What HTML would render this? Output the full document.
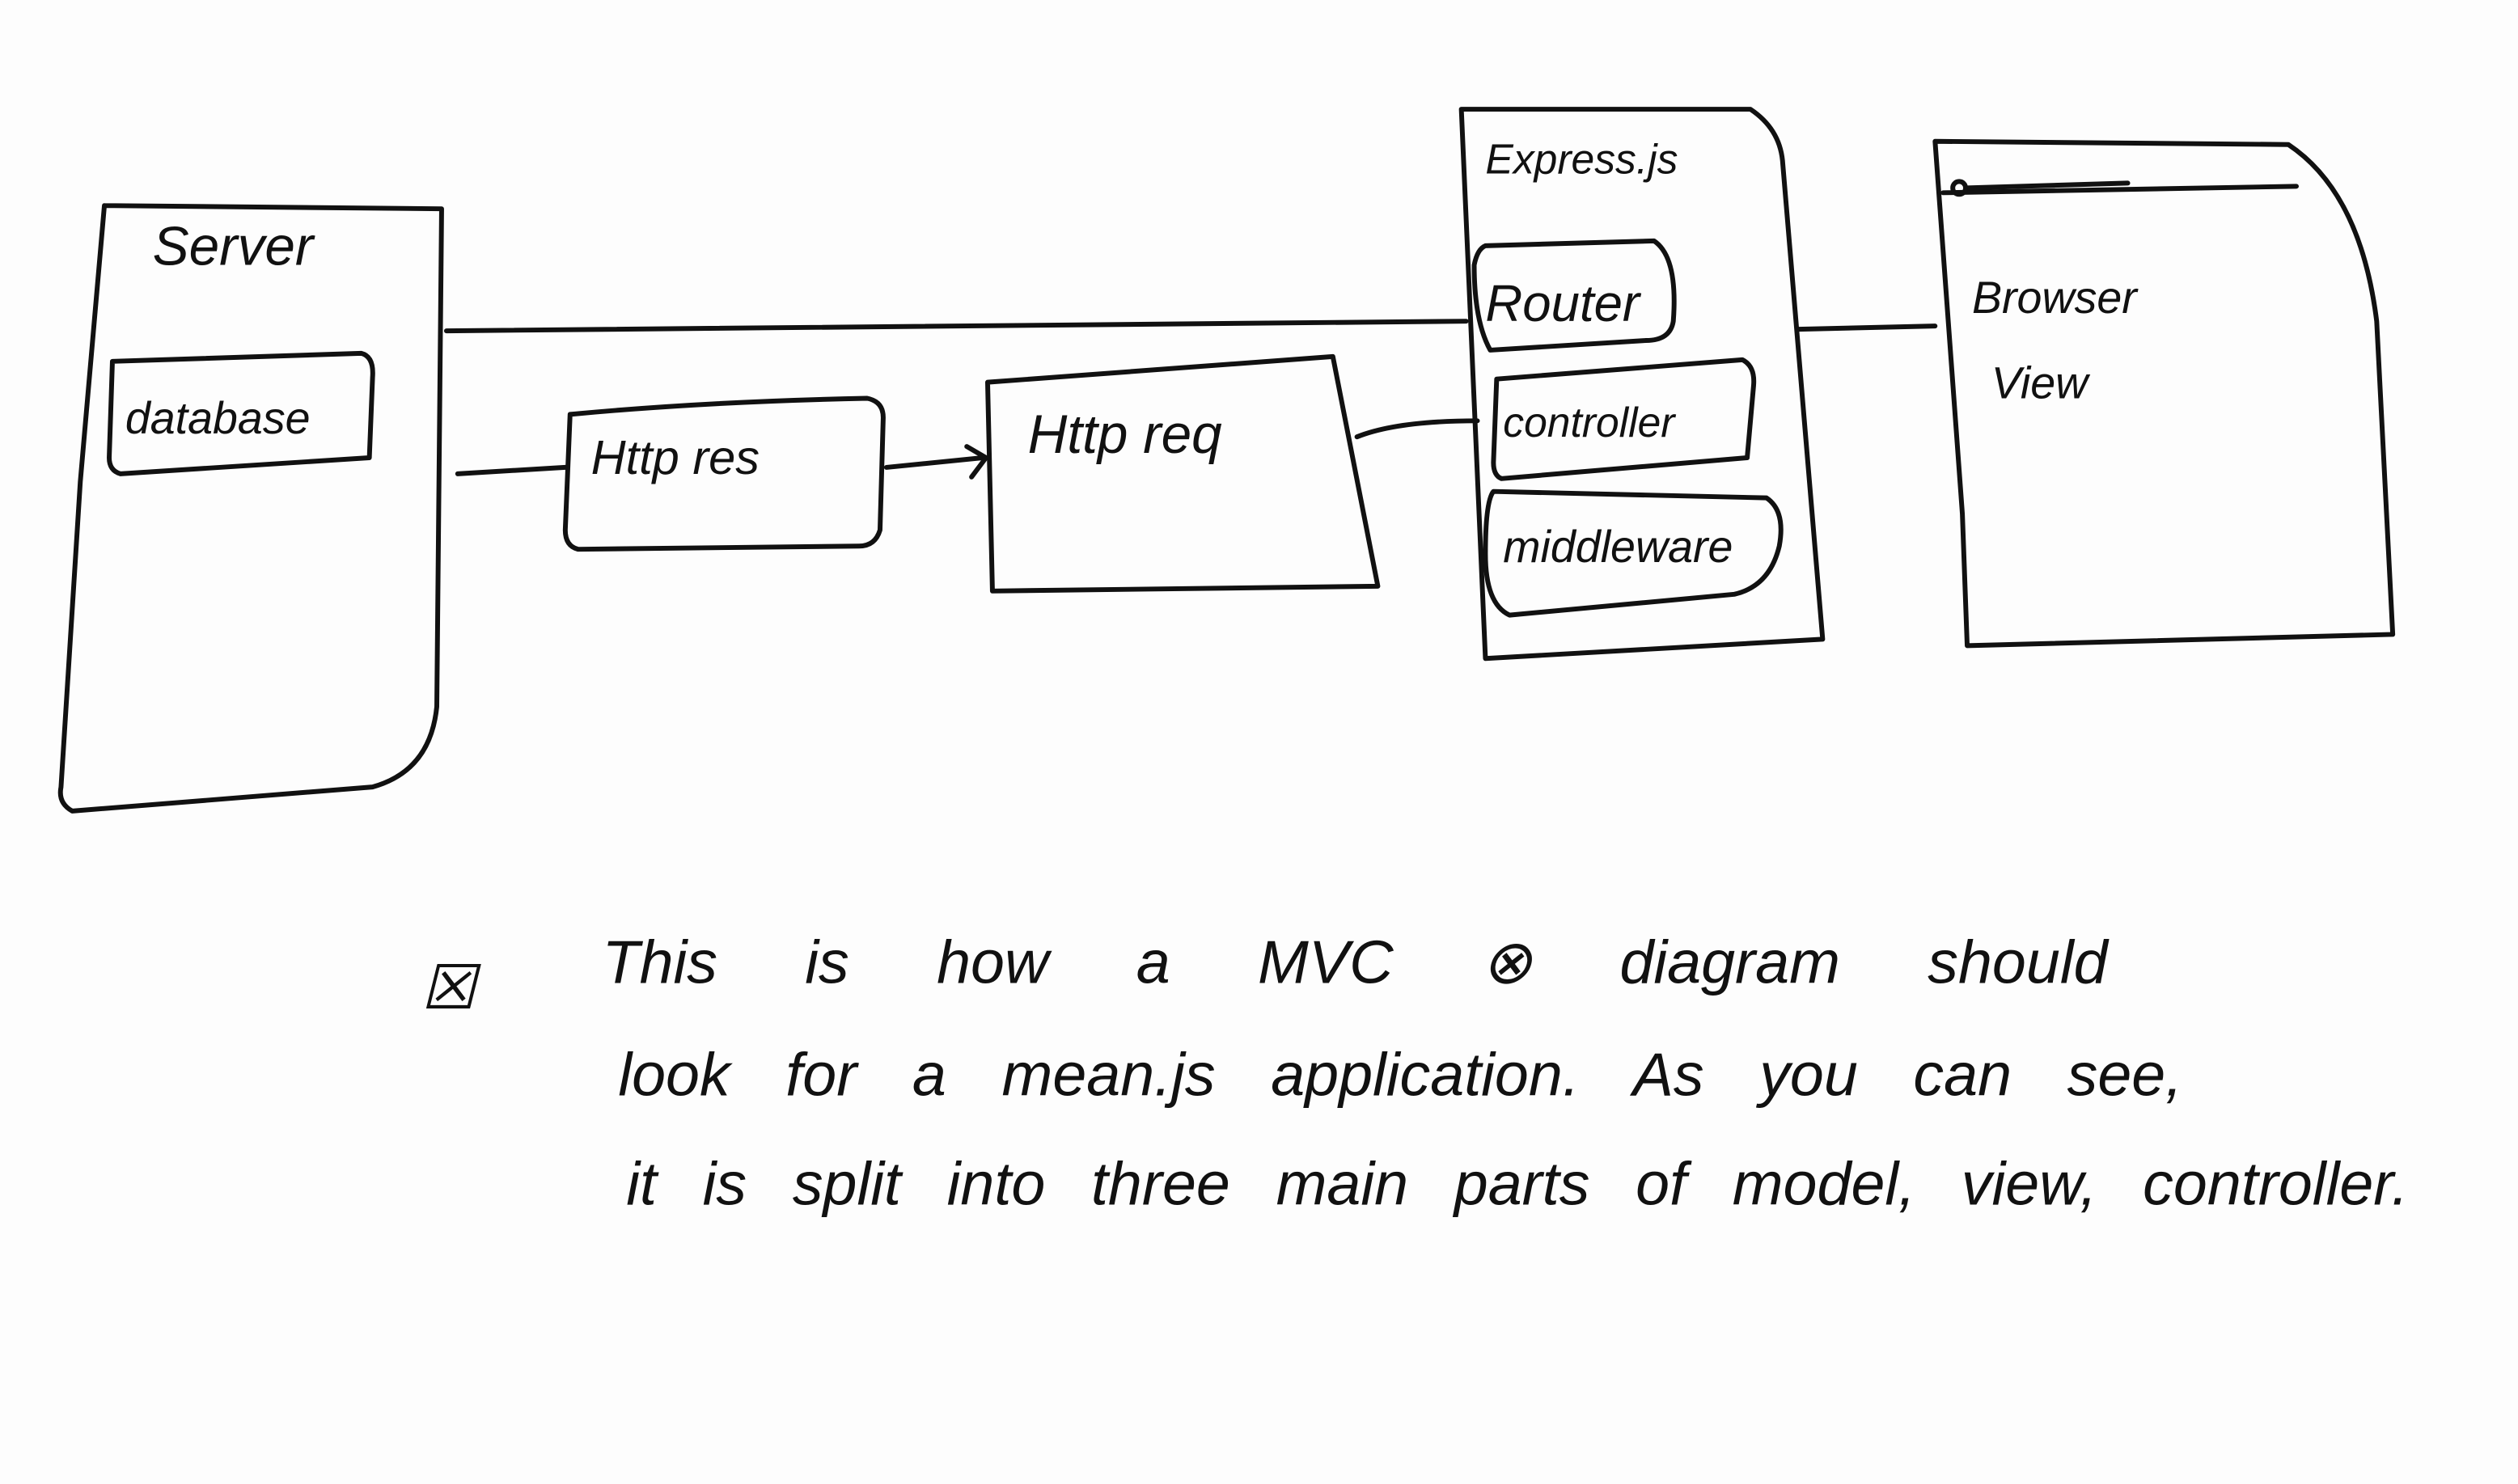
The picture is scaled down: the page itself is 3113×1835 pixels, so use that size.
<!DOCTYPE html>
<html><head><meta charset="utf-8"><style>
html,body{margin:0;padding:0;background:#fff;}
svg{display:block;}
text{font-family:"Liberation Sans",sans-serif;fill:#111;}
</style></head><body>
<svg width="3113" height="1835" viewBox="0 0 1568 924" preserveAspectRatio="none" xmlns="http://www.w3.org/2000/svg">
<rect width="1568" height="924" fill="#fdfdfd"/>
<g fill="none" stroke="#111" stroke-width="3" stroke-linecap="round" stroke-linejoin="round">
<!-- Server -->
<path d="M65,128 L275,130 L272,440 Q268,480 232,490 L45,505 Q36,500 38,490 L50,300 L65,128"/>
<path d="M70,225 L225,220 Q233,222 232,235 L230,285 L75,295 Q68,293 68,285 Z"/>
<!-- connectors -->
<path d="M278,206 L913,200"/>
<path d="M285,295 L352,291"/>
<path d="M552,291 L612,285"/>
<path d="M602,278 L614,285 L605,297"/>
<path d="M845,272 Q870,262 920,262"/>
<path d="M1120,205 L1205,203"/>
<!-- Http res -->
<path d="M355,258 Q440,250 540,248 Q550,250 550,260 L548,330 Q545,340 535,340 L360,342 Q352,340 352,330 Z"/>
<!-- Http req -->
<path d="M615,238 L830,222 L858,365 L618,368 L615,238"/>
<!-- Express -->
<path d="M910,68 L1090,68 Q1108,80 1110,100 L1135,398 L925,410 L910,68"/>
<path d="M925,153 L1030,150 Q1045,160 1042,200 Q1040,212 1025,212 L928,218 Q918,200 918,165 Q920,155 925,153"/>
<path d="M932,236 L1085,224 Q1093,228 1092,240 L1088,285 L935,298 Q930,296 930,288 Z"/>
<path d="M930,306 L1100,310 Q1112,318 1108,340 Q1102,365 1080,370 L940,383 Q925,376 925,345 Q925,312 930,306"/>
<!-- Browser -->
<path d="M1205,88 L1425,90 Q1470,120 1480,200 L1490,395 L1225,402 L1222,320 L1205,88"/>
<path d="M1210,120 L1430,116"/>
<path d="M1225,117 L1325,114"/>
<circle cx="1220" cy="117" r="4"/>
</g>
<g font-size="34" font-style="italic">
<text x="95" y="165">Server</text>
<text x="78" y="270" font-size="28">database</text>
<text x="368" y="295" font-size="30">Http res</text>
<text x="640" y="282" font-size="34">Http req</text>
<text x="925" y="108" font-size="26">Express.js</text>
<text x="925" y="200" font-size="32">Router</text>
<text x="936" y="272" font-size="26">controller</text>
<text x="936" y="350" font-size="28">middleware</text>
<text x="1228" y="195" font-size="28">Browser</text>
<text x="1240" y="248" font-size="28">View</text>
</g>
<g font-size="38" font-style="italic">
<text x="262" y="628">☒</text>
<text x="375" y="612" word-spacing="44">This is how a MVC ⊗ diagram should</text>
<text x="385" y="682" word-spacing="24">look for a mean.js application. As you can see,</text>
<text x="390" y="750" word-spacing="18">it is split into three main parts of model, view, controller.</text>
</g>
</svg>
</body></html>
